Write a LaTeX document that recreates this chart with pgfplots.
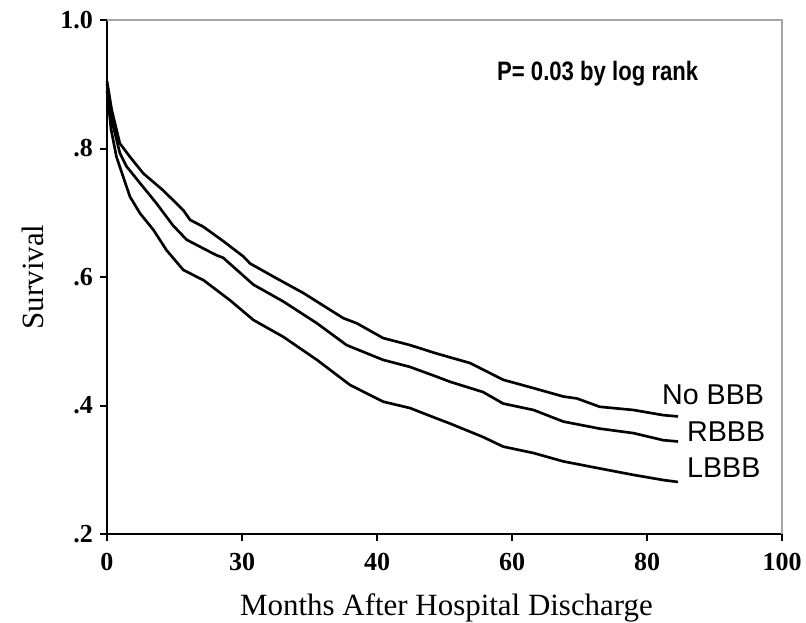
\documentclass[border=0pt]{standalone}
\usepackage{fontspec}
\setmainfont{Liberation Serif}
\newfontfamily\arial{Liberation Sans}
\usepackage{pgfplots}
\pgfplotsset{compat=1.18}
\begin{document}
\begin{tikzpicture}
\begin{axis}[
  name=ax,
  scale only axis,
  width=506.25pt, height=385.5pt,
  xmin=0, xmax=100, ymin=0.2, ymax=1.0,
  axis x line*=bottom, axis y line*=left,
  axis line style={line width=2pt, black, -},
  xtick={0,20,40,60,80,100},
  xticklabels={\textbf{0},\textbf{30},\textbf{40},\textbf{60},\textbf{80},\textbf{100}},
  ytick={0.2,0.4,0.6,0.8,1.0},
  yticklabels={\textbf{.2},\textbf{.4},\textbf{.6},\textbf{.8},\textbf{1.0}},
  tick align=outside,
  major tick length=5pt,
  tick style={line width=1.5pt, black},
  ticklabel style={font=\fontsize{19.5}{21}\selectfont\bfseries},
  xticklabel style={yshift=-6pt},
  yticklabel style={xshift=-2pt},
  xlabel={Months After Hospital Discharge},
  ylabel={Survival},
  label style={font=\fontsize{23.2}{25}\selectfont},
  xlabel style={at={(axis description cs:0.503,-0.158)}, anchor=base},
  ylabel style={at={(axis description cs:-0.0948,0.5)}, anchor=base},
  clip=false,
]
\draw[line width=1pt, gray!70] (rel axis cs:0,1) -- (rel axis cs:1,1) -- (rel axis cs:1,0);
\addplot[line width=2pt, black] coordinates {
(0,0.905) (0.7,0.860) (1.9,0.808) (3.4,0.787) (5.4,0.761) (8.3,0.735) (11.3,0.704) (12.3,0.689) (14.3,0.678) (17.2,0.656) (20.2,0.632) (21.2,0.621) (25.1,0.598) (29.1,0.575) (35.0,0.536) (37.0,0.528) (40.9,0.505) (44.9,0.494) (48.8,0.481) (50.8,0.475) (53.8,0.466) (58.7,0.440) (63.2,0.427) (67.6,0.414) (69.6,0.411) (73.0,0.398) (78.0,0.393) (82.4,0.385) (84.6,0.383)
};
\addplot[line width=2pt, black] coordinates {
(0,0.90) (0.8,0.84) (1.9,0.793) (2.9,0.772) (4.9,0.746) (7.3,0.715) (9.8,0.680) (11.8,0.658) (13.8,0.647) (16.2,0.634) (17.2,0.630) (21.7,0.588) (26.1,0.562) (31.1,0.528) (35.5,0.494) (40.9,0.471) (44.9,0.460) (48.8,0.445) (50.8,0.437) (55.7,0.421) (58.7,0.403) (63.2,0.393) (67.6,0.375) (73.0,0.364) (78.0,0.357) (82.4,0.346) (84.6,0.344)
};
\addplot[line width=2pt, black] coordinates {
(0,0.89) (0.6,0.83) (1.4,0.787) (2.4,0.756) (3.4,0.725) (4.9,0.699) (6.9,0.673) (8.8,0.642) (11.3,0.611) (14.3,0.595) (18.2,0.564) (21.7,0.533) (26.1,0.507) (31.1,0.471) (36.0,0.432) (40.9,0.406) (44.9,0.396) (48.8,0.380) (50.8,0.372) (55.7,0.351) (58.7,0.336) (63.2,0.326) (67.6,0.313) (73.0,0.302) (78.0,0.292) (82.4,0.284) (84.6,0.281)
};
\node[font=\arial\fontsize{20}{22}\selectfont\bfseries, xscale=0.83] at (axis cs:72.7,0.916) {P= 0.03 by log rank};
\node[font=\arial\fontsize{21.5}{23}\selectfont, anchor=west, inner sep=0pt] at (axis cs:82.2,0.416) {No BBB};
\node[font=\arial\fontsize{21.5}{23}\selectfont, anchor=west, inner sep=0pt] at (axis cs:85.9,0.359) {RBBB};
\node[font=\arial\fontsize{21.5}{23}\selectfont, anchor=west, inner sep=0pt] at (axis cs:85.9,0.303) {LBBB};
\end{axis}
\pgfresetboundingbox
\path[use as bounding box] ([xshift=-80.25pt,yshift=-66pt]ax.south west) rectangle ([xshift=18pt,yshift=15pt]ax.north east);
\end{tikzpicture}
\end{document}
